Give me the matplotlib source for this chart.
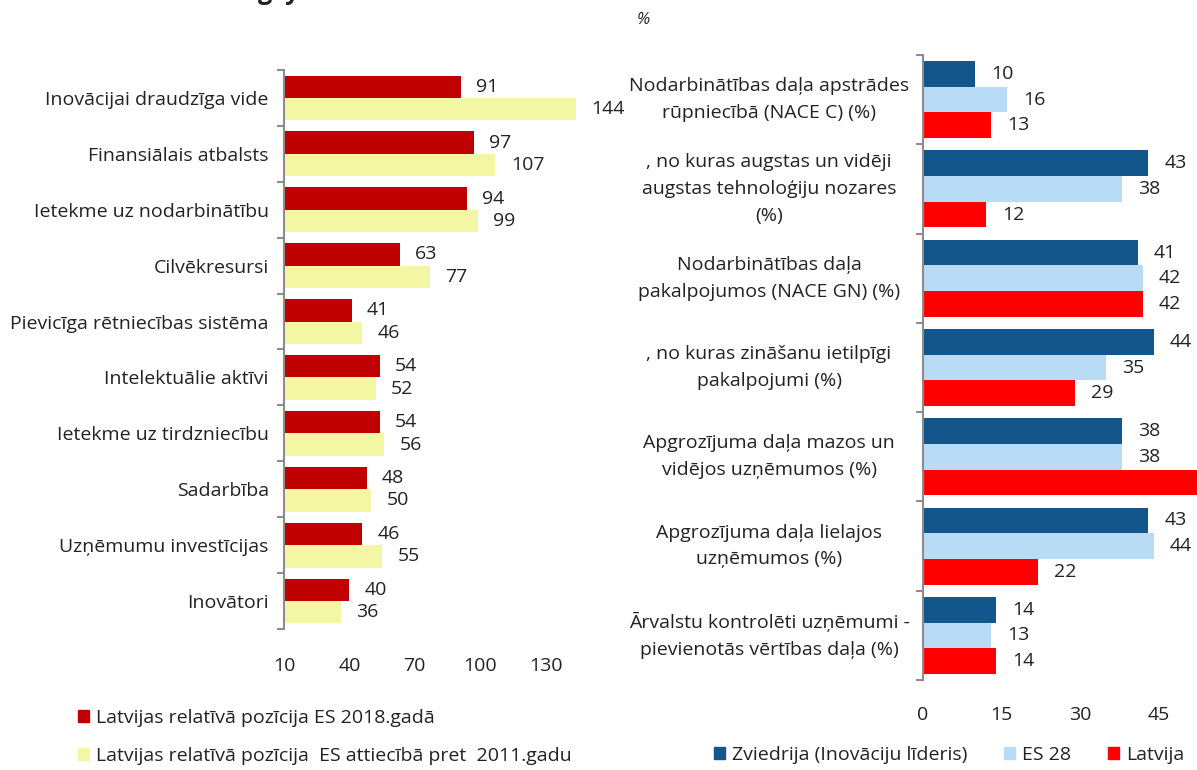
import numpy as np
import matplotlib
matplotlib.use('Agg')
import matplotlib.pyplot as plt
from matplotlib.patches import Patch

plt.rcParams['font.family'] = ['Open Sans', 'DejaVu Sans']
plt.rcParams['text.color'] = '#222222'
plt.rcParams['xtick.color'] = '#222222'
plt.rcParams['ytick.color'] = '#222222'

# left panel data
left_cats = ['Inovācijai draudzīga vide', 'Finansiālais atbalsts', 'Ietekme uz nodarbinātību',
             'Cilvēkresursi', 'Pievicīga rētniecības sistēma', 'Intelektuālie aktīvi',
             'Ietekme uz tirdzniecību', 'Sadarbība', 'Uzņēmumu investīcijas', 'Inovātori']
pos_2018 = [91, 97, 94, 63, 41, 54, 54, 48, 46, 40]
pos_2011 = [144, 107, 99, 77, 46, 52, 56, 50, 55, 36]
left_ticks = [10, 40, 70, 100, 130]
left_legend = ['Latvijas relatīvā pozīcija ES 2018.gadā',
               'Latvijas relatīvā pozīcija  ES attiecībā pret  2011.gadu']

# right panel data
right_cats = ['Nodarbinātības daļa apstrādes\nrūpniecībā (NACE C) (%)',
              ', no kuras augstas un vidēji\naugstas tehnoloģiju nozares\n(%)',
              'Nodarbinātības daļa\npakalpojumos (NACE GN) (%)',
              ', no kuras zināšanu ietilpīgi\npakalpojumi (%)',
              'Apgrozījuma daļa mazos un\nvidējos uzņēmumos (%)',
              'Apgrozījuma daļa lielajos\nuzņēmumos (%)',
              'Ārvalstu kontrolēti uzņēmumi -\npievienotās vērtības daļa (%)']
sweden = [10, 43, 41, 44, 38, 43, 14]
eu28 = [16, 38, 42, 35, 38, 44, 13]
latvia = [13, 12, 42, 29, 62, 22, 14]
right_ticks = [0, 15, 30, 45]
right_legend = ['Zviedrija (Inovāciju līderis)', 'ES 28', 'Latvija']

FS = 14
grey = '#8c8c8c'

fig = plt.figure(figsize=(11.97, 7.70), dpi=100)

# ---- left panel ----
ax1 = fig.add_axes([284/1197, 1-629/770, (611-284)/1197, (629-70)/770])
y = np.arange(len(left_cats))
ax1.barh(y - 0.2, np.array(pos_2018) - 10, left=10, height=0.4, color='#C00000')
ax1.barh(y + 0.2, np.array(pos_2011) - 10, left=10, height=0.4, color='#F3F7A4')
for i in range(len(left_cats)):
    ax1.annotate(str(pos_2018[i]), (pos_2018[i], y[i] - 0.2), xytext=(11, 0),
                 textcoords='offset points', va='center', fontsize=FS)
    ax1.annotate(str(pos_2011[i]), (pos_2011[i], y[i] + 0.2), xytext=(11, 0),
                 textcoords='offset points', va='center', fontsize=FS)
ax1.set_xlim(10, 160)
ax1.set_ylim(len(left_cats) - 0.5, -0.5)
ax1.set_xticks(left_ticks)
ax1.tick_params(axis='x', length=0, pad=20, labelsize=FS)
ax1.set_yticks(np.arange(len(left_cats) + 1) - 0.5)
ax1.set_yticklabels([])
ax1.set_yticks(y, minor=True)
ax1.set_yticklabels(left_cats, minor=True, fontsize=FS)
ax1.tick_params(axis='y', which='major', length=5, width=1.5, color=grey)
ax1.tick_params(axis='y', which='minor', length=0, pad=11)
for s in ['top', 'right', 'bottom']:
    ax1.spines[s].set_visible(False)
ax1.spines['left'].set_color(grey)
ax1.spines['left'].set_linewidth(1.5)

# ---- right panel ----
ax2 = fig.add_axes([923/1197, 1-680/770, (1197-923)/1197, (680-55)/770])
y2 = np.arange(len(right_cats))
h = 0.287
xmax = 52.3
series = [(sweden, '#13568B', -h), (eu28, '#B8DCF6', 0), (latvia, '#FF0000', h)]
for vals, col, off in series:
    ax2.barh(y2 + off, vals, height=h, color=col)
    for i, v in enumerate(vals):
        if v < xmax:
            ax2.annotate(str(v), (v, y2[i] + off), xytext=(11.5, 0),
                         textcoords='offset points', va='center', fontsize=FS)
for i, lab in enumerate(right_cats):
    ax2.text(-0.562, y2[i], lab, transform=ax2.get_yaxis_transform(), ha='center',
             va='center', multialignment='center', fontsize=FS, linespacing=1.62)
ax2.set_xlim(0, xmax)
ax2.set_ylim(len(right_cats) - 0.5, -0.5)
ax2.set_xticks(right_ticks)
ax2.tick_params(axis='x', length=0, pad=19, labelsize=FS)
ax2.set_yticks(np.arange(len(right_cats) + 1) - 0.5)
ax2.set_yticklabels([])
ax2.tick_params(axis='y', length=5, width=1.5, color=grey)
for s in ['top', 'right', 'bottom']:
    ax2.spines[s].set_visible(False)
ax2.spines['left'].set_color(grey)
ax2.spines['left'].set_linewidth(1.5)

# ---- legends and loose text ----
fig.legend([Patch(color='#C00000'), Patch(color='#F3F7A4')], left_legend,
           loc='center left', bbox_to_anchor=(78/1197, 1-737/770), frameon=False,
           fontsize=FS, handlelength=0.57, handleheight=0.57, handletextpad=0.35,
           labelspacing=1.0, borderpad=0, borderaxespad=0)
fig.legend([Patch(color='#13568B'), Patch(color='#B8DCF6'), Patch(color='#FF0000')],
           right_legend, loc='center left', bbox_to_anchor=(714/1197, 1-755/770),
           ncol=3, frameon=False, fontsize=FS, handlelength=0.57, handleheight=0.57,
           handletextpad=0.35, columnspacing=1.9, borderpad=0, borderaxespad=0)

fig.text(643/1197, 1-20/770, '%', fontsize=12, style='italic', ha='center', va='center')
# title of the page is cut off at the top edge in the original, only descenders remain
fig.text(258/1197, 1+1/770, 'g  y', fontsize=18, fontweight='bold', ha='left', va='baseline')

fig.savefig('out.png', dpi=100)
